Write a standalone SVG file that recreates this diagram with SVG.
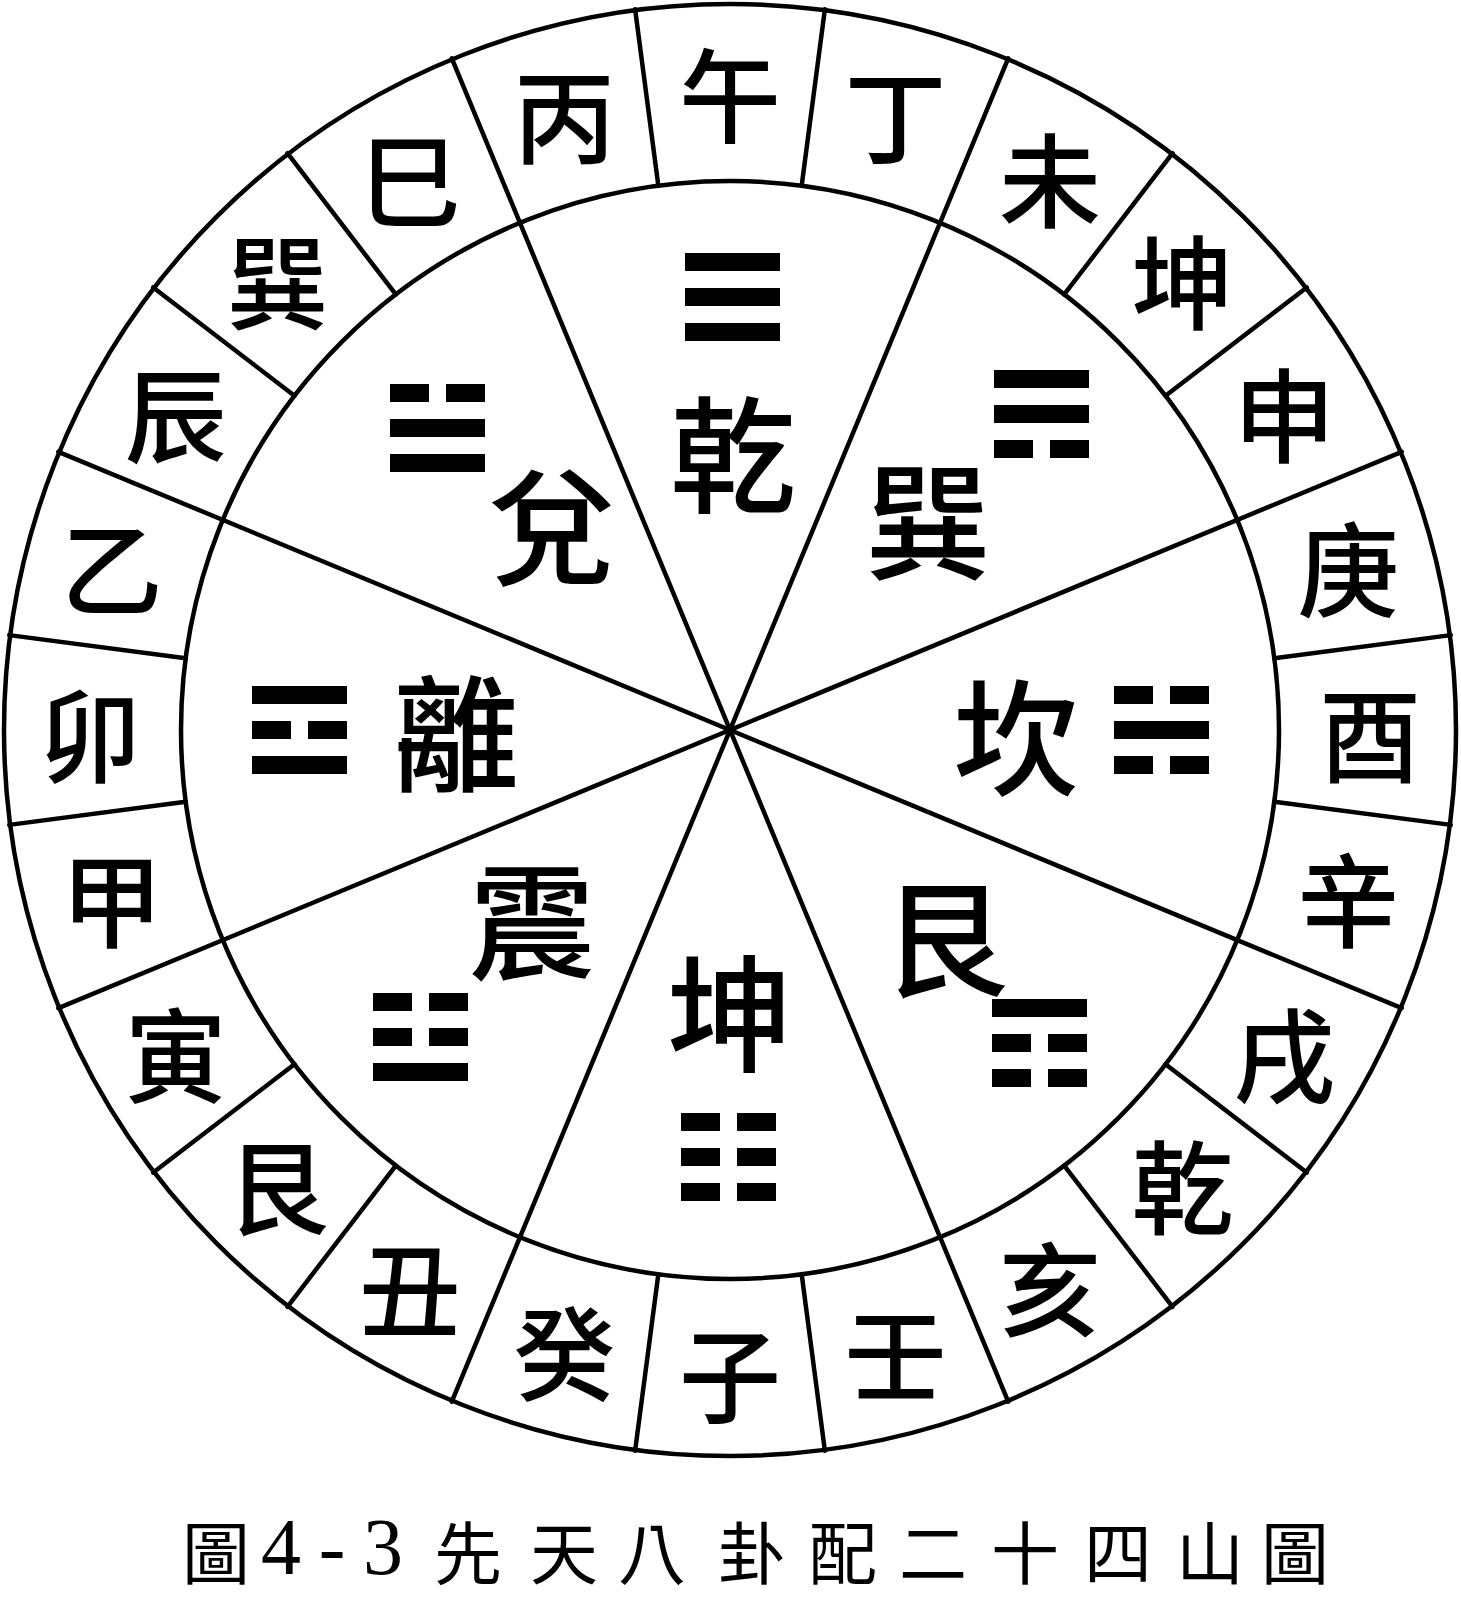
<svg xmlns="http://www.w3.org/2000/svg" xmlns:xlink="http://www.w3.org/1999/xlink" width="1461" height="1600" viewBox="0 0 1461 1600">
<style>
.ln{stroke:#000;stroke-width:4.5;fill:none;stroke-linecap:round}
.ring{font-family:"Noto Sans CJK TC","Noto Sans CJK SC",sans-serif;font-size:102px;font-weight:500;text-anchor:middle;dominant-baseline:central;fill:#000}
.gua{font-family:"Noto Sans CJK TC","Noto Sans CJK SC",sans-serif;font-size:126px;font-weight:500;text-anchor:middle;dominant-baseline:central;fill:#000}
.cap{font-family:"Noto Sans CJK TC","Noto Sans CJK SC",sans-serif;font-size:68px;text-anchor:middle;dominant-baseline:central;fill:#000}
.num{font-family:"Liberation Serif",serif;font-size:80px;text-anchor:middle;dominant-baseline:central;fill:#000}
</style>
<defs>
<g id="yang"><rect x="0" y="0" width="95" height="18"/></g>
<g id="yin"><rect x="0" y="0" width="39" height="18"/><rect x="56" y="0" width="39" height="18"/></g>
</defs>
<rect width="1461" height="1600" fill="#fff"/>
<g id="connectors">
<circle class="ln" cx="730" cy="730" r="726"/>
<circle class="ln" cx="730" cy="730" r="549"/>
<line class="ln" x1="1008.2" y1="58.3" x2="451.8" y2="1401.7"/>
<line class="ln" x1="1401.7" y1="451.8" x2="58.3" y2="1008.2"/>
<line class="ln" x1="1401.7" y1="1008.2" x2="58.3" y2="451.8"/>
<line class="ln" x1="1008.2" y1="1401.7" x2="451.8" y2="58.3"/>
<line class="ln" x1="801.66" y1="185.70" x2="824.89" y2="9.22"/>
<line class="ln" x1="1064.21" y1="294.45" x2="1172.57" y2="153.23"/>
<line class="ln" x1="1165.55" y1="395.79" x2="1306.77" y2="287.43"/>
<line class="ln" x1="1274.30" y1="658.34" x2="1450.78" y2="635.11"/>
<line class="ln" x1="1274.30" y1="801.66" x2="1450.78" y2="824.89"/>
<line class="ln" x1="1165.55" y1="1064.21" x2="1306.77" y2="1172.57"/>
<line class="ln" x1="1064.21" y1="1165.55" x2="1172.57" y2="1306.77"/>
<line class="ln" x1="801.66" y1="1274.30" x2="824.89" y2="1450.78"/>
<line class="ln" x1="658.34" y1="1274.30" x2="635.11" y2="1450.78"/>
<line class="ln" x1="395.79" y1="1165.55" x2="287.43" y2="1306.77"/>
<line class="ln" x1="294.45" y1="1064.21" x2="153.23" y2="1172.57"/>
<line class="ln" x1="185.70" y1="801.66" x2="9.22" y2="824.89"/>
<line class="ln" x1="185.70" y1="658.34" x2="9.22" y2="635.11"/>
<line class="ln" x1="294.45" y1="395.79" x2="153.23" y2="287.43"/>
<line class="ln" x1="395.79" y1="294.45" x2="287.43" y2="153.23"/>
<line class="ln" x1="658.34" y1="185.70" x2="635.11" y2="9.22"/>
</g>
<g id="mountains">
<text class="ring" x="730" y="90">午</text>
<text class="ring" x="895.6" y="111.8">丁</text>
<text class="ring" x="1050" y="175.7">未</text>
<text class="ring" x="1182.5" y="277.5">坤</text>
<text class="ring" x="1284.3" y="410">申</text>
<text class="ring" x="1348.2" y="564.4">庚</text>
<text class="ring" x="1370" y="730">酉</text>
<text class="ring" x="1348.2" y="895.6">辛</text>
<text class="ring" x="1284.3" y="1050">戌</text>
<text class="ring" x="1182.5" y="1182.5">乾</text>
<text class="ring" x="1050" y="1284.3">亥</text>
<text class="ring" x="895.6" y="1348.2">壬</text>
<text class="ring" x="730" y="1370">子</text>
<text class="ring" x="564.4" y="1348.2">癸</text>
<text class="ring" x="410" y="1284.3">丑</text>
<text class="ring" x="277.5" y="1182.5">艮</text>
<text class="ring" x="175.7" y="1050">寅</text>
<text class="ring" x="111.8" y="895.6">甲</text>
<text class="ring" x="90" y="730">卯</text>
<text class="ring" x="111.8" y="564.4">乙</text>
<text class="ring" x="175.7" y="410">辰</text>
<text class="ring" x="277.5" y="277.5">巽</text>
<text class="ring" x="410" y="175.7">巳</text>
<text class="ring" x="564.4" y="111.8">丙</text>
</g>
<g id="qian">
<use xlink:href="#yang" href="#yang" x="685" y="253"/><use xlink:href="#yang" href="#yang" x="685" y="288"/><use xlink:href="#yang" href="#yang" x="685" y="323"/>
<text class="gua" x="733" y="448">乾</text>
</g>
<g id="dui">
<use xlink:href="#yin" href="#yin" x="390" y="384"/><use xlink:href="#yang" href="#yang" x="390" y="419"/><use xlink:href="#yang" href="#yang" x="390" y="454"/>
<text class="gua" x="552" y="520">兌</text>
</g>
<g id="xun">
<use xlink:href="#yang" href="#yang" x="994" y="370"/><use xlink:href="#yang" href="#yang" x="994" y="405"/><use xlink:href="#yin" href="#yin" x="994" y="440"/>
<text class="gua" x="928" y="515">巽</text>
</g>
<g id="li">
<use xlink:href="#yang" href="#yang" x="252" y="686"/><use xlink:href="#yin" href="#yin" x="252" y="721"/><use xlink:href="#yang" href="#yang" x="252" y="756"/>
<text class="gua" x="456" y="727">離</text>
</g>
<g id="kan">
<use xlink:href="#yin" href="#yin" x="1114" y="686"/><use xlink:href="#yang" href="#yang" x="1114" y="721"/><use xlink:href="#yin" href="#yin" x="1114" y="756"/>
<text class="gua" x="1016" y="731">坎</text>
</g>
<g id="zhen">
<use xlink:href="#yin" href="#yin" x="373" y="993"/><use xlink:href="#yin" href="#yin" x="373" y="1028"/><use xlink:href="#yang" href="#yang" x="373" y="1063"/>
<text class="gua" x="532" y="915">震</text>
</g>
<g id="gen">
<use xlink:href="#yang" href="#yang" x="992" y="999"/><use xlink:href="#yin" href="#yin" x="992" y="1034"/><use xlink:href="#yin" href="#yin" x="992" y="1069"/>
<text class="gua" x="945" y="932">艮</text>
</g>
<g id="kun">
<use xlink:href="#yin" href="#yin" x="681" y="1113"/><use xlink:href="#yin" href="#yin" x="681" y="1148"/><use xlink:href="#yin" href="#yin" x="681" y="1183"/>
<text class="gua" x="730" y="1007">坤</text>
</g>
<g id="caption">
<text class="cap" x="216" y="1549">圖</text>
<text class="num" x="281" y="1547">4</text>
<text class="num" x="332" y="1547">-</text>
<text class="num" x="383" y="1547">3</text>
<text class="cap" x="468 564 652 752 843 933 1025 1118 1210 1295" y="1549">先天八卦配二十四山圖</text>
</g>
</svg>
